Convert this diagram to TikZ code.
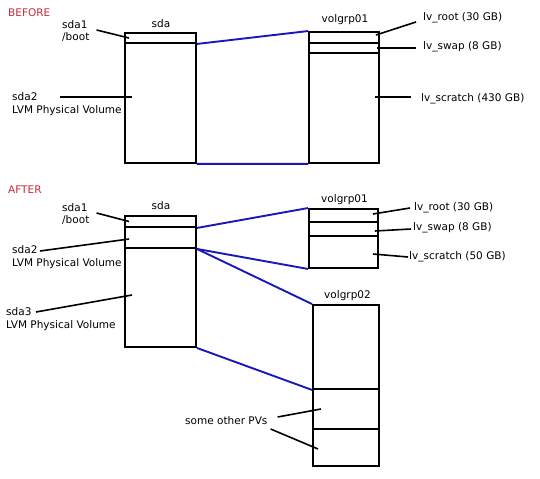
\documentclass[tikz,border=0pt]{standalone}
\usepackage{fontspec}
\setmainfont{DejaVu Sans}
\usepackage{tikz}
\usetikzlibrary{positioning}
\definecolor{stagered}{RGB}{200,40,60}
\definecolor{linkblue}{RGB}{25,25,185}

\begin{document}
\begin{tikzpicture}[x=1bp, y=-1bp,
  every node/.style={font=\fontsize{10.5bp}{12.5bp}\selectfont},
  part/.style={draw=black, line width=1.9bp, rectangle, inner sep=0pt},
  lbl/.style={inner sep=0pt, anchor=west, align=left},
  leader/.style={draw=black, line width=1.6bp},
  pvlink/.style={draw=linkblue, line width=1.9bp}]
\useasboundingbox (0,0) rectangle (540,479);

% before
\node[lbl, text=stagered] (before) at (8,13) {BEFORE};

\node[inner sep=0pt] (sdaA) at (161,23.5) {sda};
\node[part, minimum width=71bp, minimum height=10bp] (bootA) at (160.5,38) {};
\node[part, minimum width=71bp, minimum height=120bp] (pvA) at (160.5,103) {};
\node[lbl] (bootlblA) at (62,31) {sda1\\/boot};
\node[lbl] (pvlblA) at (12,104) {sda2\\LVM Physical Volume};
\draw[leader] ([shift={(7,-1)}]bootlblA.east) -- ([xshift=5]bootA.west);
\draw[leader] ([shift={(48,-7)}]pvlblA.west) -- ([shift={(8,-6)}]pvA.west);

\node[inner sep=0pt] (vgA) at (345,19.5) {volgrp01};
\node[part, minimum width=70bp, minimum height=11bp] (rootA) at (344,37.5) {};
\node[part, minimum width=70bp, minimum height=10bp] (swapA) at (344,48) {};
\node[part, minimum width=70bp, minimum height=110bp] (scratchA) at (344,108) {};
\node[lbl] (rootlblA) at (423,18) {lv\_root (30 GB)};
\node[lbl] (swaplblA) at (423,47) {lv\_swap (8 GB)};
\node[lbl] (scratchlblA) at (421,98.5) {lv\_scratch (430 GB)};
\draw[leader] ([shift={(-7,4)}]rootlblA.west) -- ([shift={(-4,-2.5)}]rootA.east);
\draw[leader] ([shift={(-7,1)}]swaplblA.west) -- ([xshift=-3]swapA.east);
\draw[leader] ([shift={(-10,-1.5)}]scratchlblA.west) -- ([shift={(-5,-11)}]scratchA.east);

\draw[pvlink] (bootA.south east) -- (rootA.north west);
\draw[pvlink] (pvA.south east) -- (scratchA.south west);

% after
\node[lbl, text=stagered] (after) at (8,190) {AFTER};

\node[inner sep=0pt] (sdaB) at (161,206) {sda};
\node[part, minimum width=71bp, minimum height=11bp] (bootB) at (160.5,221.5) {};
\node[part, minimum width=71bp, minimum height=21bp] (pvtwoB) at (160.5,237.5) {};
\node[part, minimum width=71bp, minimum height=99bp] (pvthreeB) at (160.5,297.5) {};
\node[lbl] (bootlblB) at (62,214) {sda1\\/boot};
\node[lbl] (pvtwolblB) at (12,257) {sda2\\LVM Physical Volume};
\node[lbl] (pvthreelblB) at (6,319) {sda3\\LVM Physical Volume};
\draw[leader] ([shift={(7,-1)}]bootlblB.east) -- ([xshift=5]bootB.west);
\draw[leader] ([shift={(28,-6)}]pvtwolblB.west) -- ([shift={(5,1.5)}]pvtwoB.west);
\draw[leader] ([shift={(30,-7)}]pvthreelblB.west) -- ([shift={(8,-2.5)}]pvthreeB.west);

\node[inner sep=0pt] (vgB) at (344.5,200) {volgrp01};
\node[part, minimum width=69bp, minimum height=13bp] (rootB) at (343.5,215.5) {};
\node[part, minimum width=69bp, minimum height=14bp] (swapB) at (343.5,229) {};
\node[part, minimum width=69bp, minimum height=32bp] (scratchB) at (343.5,252) {};
\node[lbl] (rootlblB) at (414,207.5) {lv\_root (30 GB)};
\node[lbl] (swaplblB) at (413,228) {lv\_swap (8 GB)};
\node[lbl] (scratchlblB) at (409,256.5) {lv\_scratch (50 GB)};
\draw[leader] ([shift={(-4,0.5)}]rootlblB.west) -- ([shift={(-6,-1.5)}]rootB.east);
\draw[leader] ([shift={(-2,1)}]swaplblB.west) -- ([shift={(-4,2)}]swapB.east);
\draw[leader] ([shift={(-1,0.5)}]scratchlblB.west) -- ([shift={(-6,2)}]scratchB.east);

\node[inner sep=0pt] (vgC) at (347.5,296) {volgrp02};
\node[part, minimum width=66bp, minimum height=84bp] (bigC) at (346,347) {};
\node[part, minimum width=66bp, minimum height=40bp] (otherC) at (346,409) {};
\node[part, minimum width=66bp, minimum height=37bp] (anotherC) at (346,447.5) {};
\node[lbl] (otherlblC) at (185,420.5) {some other PVs};
\draw[leader] ([shift={(10,-3.5)}]otherlblC.east) -- ([xshift=9]otherC.west);
\draw[leader] ([shift={(3,8.5)}]otherlblC.east) -- ([shift={(6,1.5)}]anotherC.west);

\draw[pvlink] (bootB.south east) -- (rootB.north west);
\draw[pvlink] (pvtwoB.south east) -- (scratchB.south west);
\draw[pvlink] (pvtwoB.south east) -- (bigC.north west);
\draw[pvlink] (pvthreeB.south east) -- (bigC.south west);

\end{tikzpicture}
\end{document}
